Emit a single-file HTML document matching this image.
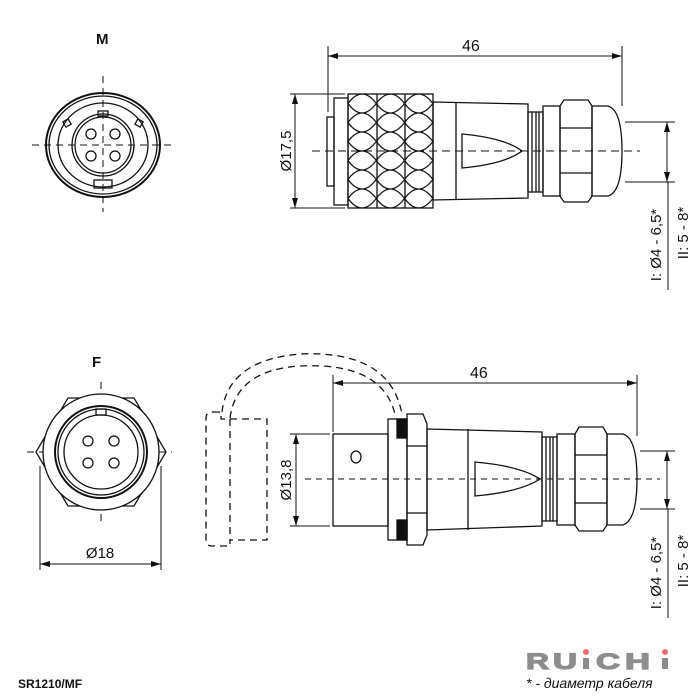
<!DOCTYPE html>
<html><head><meta charset="utf-8"><style>body{margin:0;background:#fff}svg{display:block}text{font-family:"Liberation Sans",sans-serif;fill:#111}</style></head>
<body>
<svg width="700" height="700" viewBox="0 0 700 700" xmlns="http://www.w3.org/2000/svg">
<defs>
<marker id="a" viewBox="0 0 10 6" refX="10" refY="3" markerWidth="10" markerHeight="6" orient="auto-start-reverse" markerUnits="userSpaceOnUse"><path d="M0,0L10,3L0,6z" fill="#111"/></marker>
<pattern id="kn" x="348" y="94" width="28.3" height="19" patternUnits="userSpaceOnUse"><path d="M0,9.5 Q7,0 14.15,0 Q21,0 28.3,9.5 Q21,19 14.15,19 Q7,19 0,9.5z" fill="none" stroke="#111" stroke-width="1.3"/></pattern>
</defs>
<g fill="none" stroke="#111" stroke-width="1.3">
<line x1="32" y1="145" x2="175" y2="145" stroke-dasharray="7,5" stroke-width="1"/>
<line x1="103" y1="76" x2="103" y2="212" stroke-dasharray="7,5" stroke-width="1"/>
<ellipse cx="103" cy="145" rx="57" ry="52" stroke-width="2"/>
<ellipse cx="103" cy="145" rx="54" ry="49"/>
<ellipse cx="103" cy="145" rx="45" ry="42"/>
<circle cx="103" cy="145" r="31"/><circle cx="103" cy="145" r="28"/>
<rect x="98" y="111" width="10" height="5"/>
<rect x="94" y="180" width="18" height="8"/>
<rect x="64" y="120" width="6" height="6" transform="rotate(-30 67 123)"/>
<rect x="136" y="120" width="6" height="6" transform="rotate(30 139 123)"/>
<circle cx="91" cy="134" r="5"/><circle cx="115" cy="134" r="5"/><circle cx="91" cy="156" r="5"/><circle cx="115" cy="156" r="5"/>
<line x1="27" y1="452" x2="172" y2="452" stroke-dasharray="7,5" stroke-width="1"/>
<line x1="101" y1="382" x2="101" y2="522" stroke-dasharray="7,5" stroke-width="1"/>
<path d="M68,398 L134,398 L166,452 L134,506 L68,506 L36,452z"/>
<circle cx="101" cy="452" r="58" fill="#fff"/>
<circle cx="101" cy="452" r="46" stroke-width="2"/>
<circle cx="101" cy="452" r="43"/>
<circle cx="101" cy="452" r="37"/>
<rect x="96" y="409" width="10" height="6"/>
<circle cx="88" cy="441" r="5"/><circle cx="114" cy="441" r="5"/><circle cx="88" cy="463" r="5"/><circle cx="114" cy="463" r="5"/>
<line x1="40" y1="466" x2="40" y2="570" stroke-width="1"/><line x1="161" y1="466" x2="161" y2="570" stroke-width="1"/>
<line x1="40" y1="564" x2="161" y2="564" stroke-width="1" marker-start="url(#a)" marker-end="url(#a)"/>

<line x1="328" y1="46" x2="328" y2="112" stroke-width="1"/><line x1="622" y1="46" x2="622" y2="106" stroke-width="1"/>
<line x1="328" y1="56" x2="622" y2="56" stroke-width="1" marker-start="url(#a)" marker-end="url(#a)"/>
<line x1="290" y1="94" x2="345" y2="94" stroke-width="1"/><line x1="290" y1="208" x2="345" y2="208" stroke-width="1"/>
<line x1="295" y1="94" x2="295" y2="208" stroke-width="1" marker-start="url(#a)" marker-end="url(#a)"/>
<rect x="327" y="117" width="7" height="69"/>
<rect x="334" y="98" width="14" height="107"/>
<rect x="348" y="94" width="85" height="114" fill="url(#kn)"/>
<line x1="377" y1="94" x2="377" y2="208"/><line x1="405" y1="94" x2="405" y2="208"/>
<path d="M433,102 L528,104 L528,198 L433,200z"/>
<line x1="456" y1="102" x2="456" y2="200"/>
<path d="M462,134 Q505,138 522,151 Q505,164 462,168z"/>
<rect x="528" y="112" width="15" height="80"/>
<line x1="532" y1="112" x2="532" y2="192"/><line x1="536" y1="112" x2="536" y2="192"/><line x1="539" y1="112" x2="539" y2="192"/>
<rect x="543" y="106" width="17" height="90"/>
<path d="M564,100 L588,100 L592,106 L592,196 L588,202 L564,202 L560,196 L560,106z"/>
<line x1="560" y1="128" x2="592" y2="128"/><line x1="560" y1="173" x2="592" y2="173"/>
<path d="M592,106 L608,106 Q622,110 622,151 Q622,192 608,196 L592,196z"/>
<line x1="312" y1="151" x2="640" y2="151" stroke-dasharray="8,5" stroke-width="1"/>
<line x1="625" y1="122" x2="675" y2="122" stroke-width="1"/><line x1="625" y1="182" x2="675" y2="182" stroke-width="1"/>
<line x1="667" y1="122" x2="667" y2="182" stroke-width="1" marker-start="url(#a)" marker-end="url(#a)"/>
<line x1="668" y1="182" x2="668" y2="290" stroke-width="1"/>

<line x1="333" y1="375" x2="333" y2="432" stroke-width="1"/><line x1="637" y1="375" x2="637" y2="436" stroke-width="1"/>
<line x1="333" y1="383" x2="637" y2="383" stroke-width="1" marker-start="url(#a)" marker-end="url(#a)"/>
<line x1="290" y1="434" x2="330" y2="434" stroke-width="1"/><line x1="290" y1="526" x2="330" y2="526" stroke-width="1"/>
<line x1="296" y1="434" x2="296" y2="526" stroke-width="1" marker-start="url(#a)" marker-end="url(#a)"/>
<rect x="333" y="434" width="55" height="92"/>
<ellipse cx="356" cy="457" rx="5" ry="6"/>
<rect x="388" y="419" width="19" height="121"/>
<rect x="397" y="419" width="10" height="19" fill="#111"/><rect x="397" y="520" width="10" height="20" fill="#111"/>
<path d="M407,414 L423,414 L427,424 L427,535 L423,545 L407,545z"/>
<line x1="407" y1="446" x2="427" y2="446"/><line x1="407" y1="513" x2="427" y2="513"/>
<path d="M427,429 L542,432 L542,526 L427,530z"/>
<line x1="468" y1="429" x2="468" y2="530"/>
<path d="M475,462 Q520,466 540,479 Q520,492 475,496z"/>
<rect x="542" y="437" width="15" height="84"/>
<line x1="546" y1="437" x2="546" y2="521"/><line x1="550" y1="437" x2="550" y2="521"/><line x1="553" y1="437" x2="553" y2="521"/>
<rect x="557" y="434" width="18" height="91"/>
<path d="M579,427 L603,427 L607,434 L607,525 L603,531 L579,531 L575,525 L575,434z"/>
<line x1="575" y1="455" x2="607" y2="455"/><line x1="575" y1="503" x2="607" y2="503"/>
<path d="M607,434 L623,434 Q637,438 637,479 Q637,520 623,525 L607,525z"/>
<line x1="305" y1="479" x2="660" y2="479" stroke-dasharray="6,5" stroke-width="1"/>
<line x1="640" y1="451" x2="675" y2="451" stroke-width="1"/><line x1="640" y1="509" x2="675" y2="509" stroke-width="1"/>
<line x1="667" y1="451" x2="667" y2="509" stroke-width="1" marker-start="url(#a)" marker-end="url(#a)"/>
<line x1="668" y1="509" x2="668" y2="618" stroke-width="1"/>
<g stroke-dasharray="7,5">
<path d="M213,412 L221,412 L221,419 L267,419 L267,540 L230,540 L230,546 L212,546 Q206,546 206,540 L206,418 Q206,412 213,412z"/>
<line x1="230" y1="419" x2="230" y2="540"/>
<path d="M222,412 Q228,360 300,354 Q390,350 402,414"/>
<path d="M230,418 Q236,370 300,366 Q382,362 395,414"/>
</g>
</g>
<text x="96" y="44" font-size="15" font-weight="bold">M</text>
<text x="92" y="367" font-size="15" font-weight="bold">F</text>
<text x="462" y="51" font-size="16">46</text>
<text x="470" y="378" font-size="16">46</text>
<text x="100" y="558" font-size="15" text-anchor="middle">Ø18</text>
<text transform="translate(291,151) rotate(-90)" font-size="15" text-anchor="middle">Ø17,5</text>
<text transform="translate(291,480) rotate(-90)" font-size="15" text-anchor="middle">Ø13,8</text>
<text transform="translate(661,245) rotate(-90)" font-size="15" text-anchor="middle">I: Ø4 - 6,5*</text>
<text transform="translate(688,233) rotate(-90)" font-size="15" text-anchor="middle">II: 5 - 8*</text>
<text transform="translate(661,573) rotate(-90)" font-size="15" text-anchor="middle">I: Ø4 - 6,5*</text>
<text transform="translate(688,561) rotate(-90)" font-size="15" text-anchor="middle">II: 5 - 8*</text>
<text x="18" y="688" font-size="12" font-weight="bold">SR1210/MF</text>
<g font-size="22" font-weight="bold" style="stroke:#8d8d8d;stroke-width:1.2">
<text x="526" y="669" textLength="23" lengthAdjust="spacingAndGlyphs" style="fill:#8d8d8d">R</text>
<text x="553" y="669" textLength="24" lengthAdjust="spacingAndGlyphs" style="fill:#8d8d8d">U</text>
<text x="596" y="669" textLength="24" lengthAdjust="spacingAndGlyphs" style="fill:#8d8d8d">C</text>
<text x="625" y="669" textLength="25" lengthAdjust="spacingAndGlyphs" style="fill:#8d8d8d">H</text>
</g>
<rect x="583" y="658" width="6" height="11" fill="#8d8d8d"/>
<rect x="662" y="658" width="6" height="11" fill="#8d8d8d"/>
<circle cx="586" cy="652" r="3" fill="#f07070"/><circle cx="665" cy="652" r="3" fill="#f07070"/>
<text x="526" y="688" font-size="14" font-style="italic">* - диаметр кабеля</text>
</svg>
</body></html>
